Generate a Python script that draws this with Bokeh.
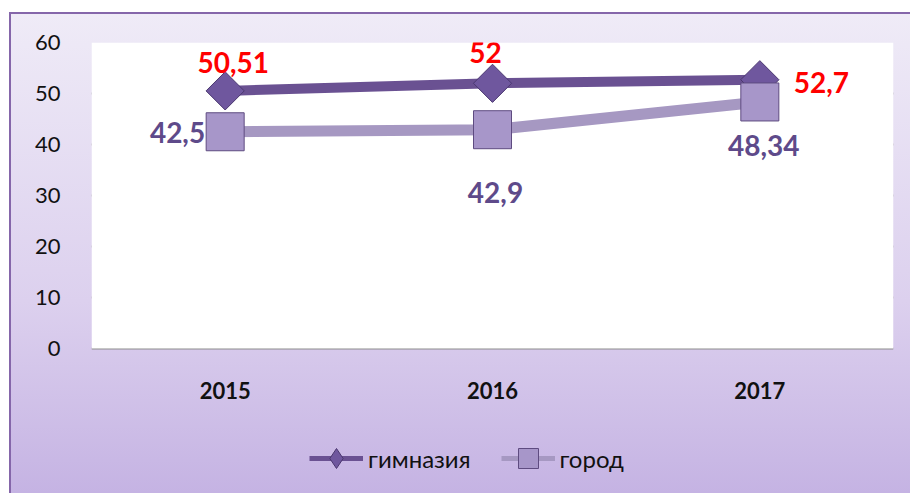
from bokeh.plotting import figure
from bokeh.models import (Range1d, FixedTicker, Legend, LegendItem, ColumnDataSource,
                          BoxAnnotation)
from bokeh.core.properties import value
from bokeh.embed import file_html
from bokeh.resources import INLINE
import math

years = ["2015", "2016", "2017"]
gymnasium = [50.51, 52, 52.7]
city = [42.5, 42.9, 48.34]
series_names = ["гимназия", "город"]
y_ticks = [0, 10, 20, 30, 40, 50, 60]

def fmt(v):
    return f"{v:g}".replace(".", ",")

FONT = "Lato"

# canvas geometry (px)
W, H = 901, 481
TOP, LEFT, RIGHT = 28, 80, 19
PLOT_H = 306                     # height of the 0..60 plotting area
y_max = y_ticks[-1]
below_px = H - TOP - PLOT_H      # room below the zero line (labels + legend)
y_min = -y_max * below_px / PLOT_H

p = figure(width=W, height=H, x_range=years, y_range=Range1d(y_min, y_max),
           output_backend="svg", toolbar_location=None,
           min_border_left=LEFT, min_border_right=RIGHT, min_border_top=TOP, min_border_bottom=0,
           border_fill_color=None, background_fill_color=None,
           outline_line_color=None,
           styles={"margin-left": "9px", "margin-top": "12px",
                   "border-left": "2px solid #8566AA", "border-top": "2px solid #8566AA",
                   "background": "linear-gradient(to bottom, #EFEBF7 0%, #DCD0EE 60%, #C5B3E3 100%)"})

# white plotting area 0..60
p.add_layout(BoxAnnotation(bottom=0, top=y_max, fill_color="white", fill_alpha=1,
                           line_color=None, level="underlay"))

p.yaxis.ticker = FixedTicker(ticks=y_ticks)
p.yaxis.axis_line_color = None
p.yaxis.major_tick_line_color = None
p.yaxis.minor_tick_line_color = None
p.yaxis.major_label_text_font = FONT
p.yaxis.major_label_text_font_size = "22px"
p.yaxis.major_label_text_color = "#111111"
p.yaxis.major_label_standoff = 25

p.xaxis.visible = False
p.xgrid.grid_line_color = None
p.ygrid.ticker = FixedTicker(ticks=y_ticks)
p.ygrid.grid_line_color = "#8C8C8C"
p.ygrid.grid_line_width = 2

# category labels under the zero line
p.text(x=years, y=[0] * len(years), text=years, y_offset=42,
       text_align="center", text_baseline="middle",
       text_font=value(FONT), text_font_style="bold", text_font_size="22px",
       text_color="#111111")

src_g = ColumnDataSource(dict(x=years, y=gymnasium))
src_c = ColumnDataSource(dict(x=years, y=city))

p.line("x", "y", source=src_g, line_color="#6A5192", line_width=10)
p.scatter("x", "y", source=src_g, marker="square", angle=math.pi / 4, size=27,
          fill_color="#6F579E", line_color="#4B3870", line_width=1)
p.line("x", "y", source=src_c, line_color="#A698C2", line_width=11)
p.scatter("x", "y", source=src_c, marker="square", size=38,
          fill_color="#A796C9", line_color="#5E4B80", line_width=1)

# data labels
g_xoff = [8, -7, 34]
g_yoff = [-28, -31, 3]
g_align = ["center", "center", "left"]
for i in range(3):
    p.text(x=[years[i]], y=[gymnasium[i]], text=[fmt(gymnasium[i])],
           x_offset=g_xoff[i], y_offset=g_yoff[i],
           text_align=g_align[i], text_baseline="middle",
           text_font=value(FONT), text_font_style="bold", text_font_size="28px",
           text_color="#FF0000")

c_xoff = [-20, 3, 4]
c_yoff = [1, 63, 44]
c_align = ["right", "center", "center"]
for i in range(3):
    p.text(x=[years[i]], y=[city[i]], text=[fmt(city[i])],
           x_offset=c_xoff[i], y_offset=c_yoff[i],
           text_align=c_align[i], text_baseline="middle",
           text_font=value(FONT), text_font_style="bold", text_font_size="28px",
           text_color="#5E4A8A")

# legend-only glyphs (a single undrawn NaN point each)
nan = float("nan")
leg_lg = p.line(x=[years[0]], y=[nan], line_color="#6A5192", line_width=5)
leg_mg = p.scatter(x=[years[0]], y=[nan], marker="diamond", size=20,
                   fill_color="#6F579E", line_color="#4B3870", line_width=1)
leg_lc = p.line(x=[years[0]], y=[nan], line_color="#A698C2", line_width=5)
leg_mc = p.scatter(x=[years[0]], y=[nan], marker="square", size=20,
                   fill_color="#A796C9", line_color="#5E4B80", line_width=1)

legend = Legend(items=[LegendItem(label=series_names[0], renderers=[leg_lg, leg_mg]),
                       LegendItem(label=series_names[1], renderers=[leg_lc, leg_mc])],
                location=(218, 12), orientation="horizontal",
                glyph_width=54, glyph_height=50, label_standoff=5, spacing=30,
                padding=0, margin=0, border_line_color=None, background_fill_alpha=0,
                label_text_font=FONT, label_text_font_size="24px", label_text_color="#111111")
p.add_layout(legend, "center")

open("out.html", "w").write(file_html(p, INLINE))
